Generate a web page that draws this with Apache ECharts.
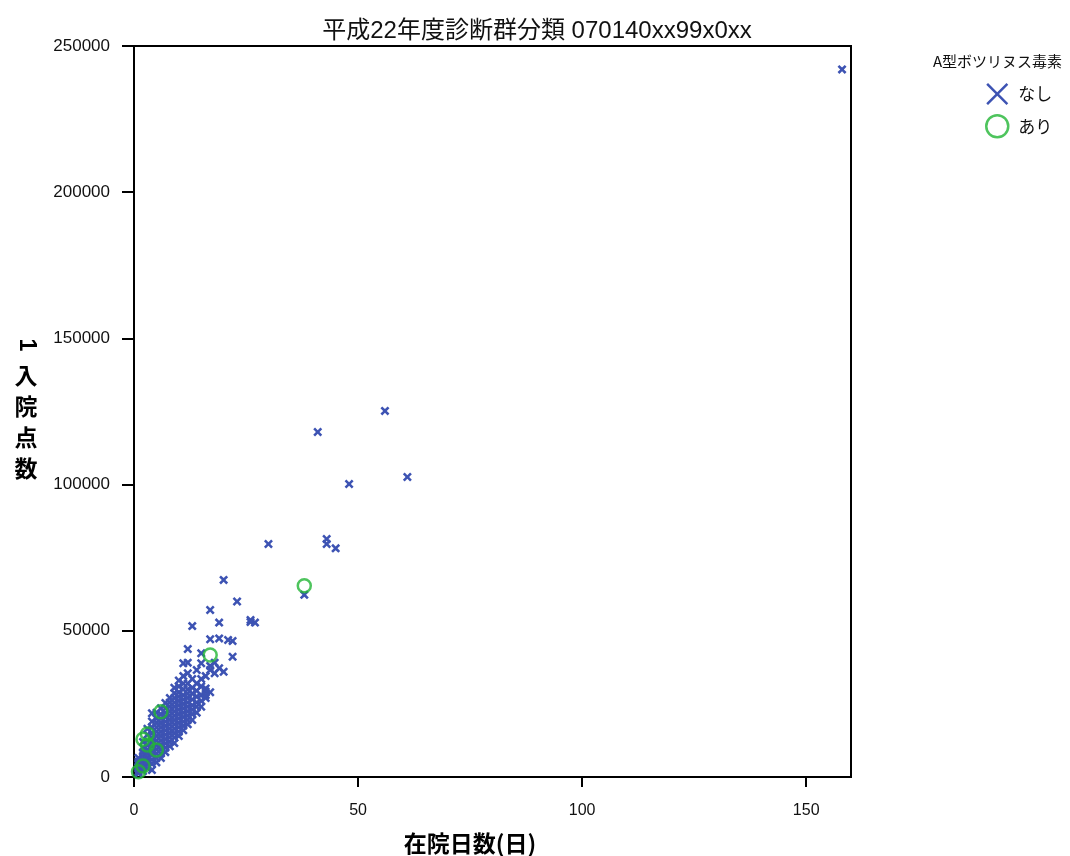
<!DOCTYPE html>
<html><head><meta charset="utf-8">
<script src="https://cdn.jsdelivr.net/npm/echarts@6/dist/echarts.min.js"></script>
<style>html,body{margin:0;padding:0;background:#fff}#c{width:1070px;height:856px}</style>
</head><body><div id="c"></div>
<script>
// Title and labels
const chartTitle = '平成22年度診断群分類 070140xx99x0xx';
const xName = '在院日数(日)';
const legendTitle = 'A型ボツリヌス毒素';
const seriesNames = ['なし', 'あり'];

// Series "なし" (no): days and points
const noneDays = [
  158,56,41,48,61,30,43,43,45,38,20,23,17,19,13,26,27,26,17,19,21,22,12,15,22,11,12,15,18,20,17,18,19,16,16,14,12,16,17,15,14,13,
  1,1,1,1,1,1,1,
  2,2,2,2,2,2,2,2,2,
  3,3,3,3,3,3,3,3,3,3,
  4,4,4,4,4,4,4,4,4,4,4,4,
  5,5,5,5,5,5,5,5,5,5,5,5,
  6,6,6,6,6,6,6,6,6,6,6,6,
  7,7,7,7,7,7,7,7,7,7,7,7,
  8,8,8,8,8,8,8,8,8,8,8,8,
  9,9,9,9,9,9,9,9,9,9,9,9,9,
  10,10,10,10,10,10,10,10,10,10,10,10,10,
  11,11,11,11,11,11,11,11,11,11,11,11,
  12,12,12,12,12,12,12,12,12,12,
  13,13,13,13,13,13,13,
  14,14,14,14,14,
  15,15,15,15,
  16,16,17
];
const nonePoints = [
  242000,125200,118000,100200,102600,79700,81400,79700,78200,62300,67400,60000,57100,52800,51600,53700,52800,53000,47100,47400,46850,46500,43800,42300,41150,38900,39100,38900,39100,36000,36600,35500,37200,30300,29200,36600,35500,34500,38000,33500,32000,33500,
  1200,1900,2700,3500,4300,5200,6500,
  2000,3000,4000,5000,6000,7200,8500,10000,12000,
  3000,4200,5500,6800,8000,9300,10800,12500,14500,16500,
  2400,4500,6000,7500,9000,10500,12000,13500,15000,17000,19000,21800,
  5000,6500,8000,9500,11000,12500,14000,15500,17000,18500,20000,22000,
  6500,8000,9500,11000,12500,14000,15500,17000,18500,20000,21500,23500,
  8500,10000,11500,13000,14500,16000,17500,19000,20500,22000,23500,25300,
  10500,12000,13500,15000,16500,18000,19500,21000,22500,24000,25500,27000,
  11600,13500,15000,16500,18000,19500,21000,22500,24000,25500,27000,28700,30500,
  14000,15500,17000,18500,20000,21500,23000,24500,26000,27500,29000,31000,33000,
  16000,17500,19000,20500,22000,23500,25000,26500,28000,30000,32000,34500,
  18000,19500,21000,22500,24000,25500,27000,28500,30000,32000,
  19500,21500,23000,24500,26500,28500,30500,
  22000,24000,25500,27500,29500,
  24000,26000,28000,31000,
  27000,28000,29000
];

// Series "あり" (yes)
const ariDays = [38,17,6,3,2,3,5,2,1];
const ariPoints = [65400,41700,22300,14700,12900,10950,9230,3760,1800];

// Axis ticks
const xTicks = [0,50,100,150];
const yTicks = [0,50000,100000,150000,200000,250000];

const blue = '#3d53b3';
const green = '#22b534';
const xPath = 'path://M0,2 L2,0 L5,3 L8,0 L10,2 L7,5 L10,8 L8,10 L5,7 L2,10 L0,8 L3,5 Z';
const xPathThin = 'path://M0,0.8 L0.8,0 L5,4.2 L9.2,0 L10,0.8 L5.8,5 L10,9.2 L9.2,10 L5,5.8 L0.8,10 L0,9.2 L4.2,5 Z';

const noneData = noneDays.map((d,i)=>[d, nonePoints[i]]);
const ariData = ariDays.map((d,i)=>[d, ariPoints[i]]);

const chart = echarts.init(document.getElementById('c'), null, {renderer:'canvas'});
const numFont = 'Liberation Sans';
const cjkFont = 'Noto Sans CJK JP';

chart.setOption({
  animation: false,
  backgroundColor: '#fff',
  title: {
    text: chartTitle, left: 532, top: 14, textAlign: 'center',
    textStyle: {fontFamily: '"Liberation Sans", "Noto Sans CJK JP"', fontSize: 24, fontWeight: 'normal', color: '#111'}
  },
  grid: {left: 134, top: 46, right: 219, bottom: 79, show: true, borderColor: '#000', borderWidth: 2, backgroundColor: 'transparent'},
  xAxis: {
    type: 'value', min: 0, max: 160, interval: 50,
    axisLine: {show: true, onZero: false, lineStyle: {color: '#000', width: 2}},
    axisTick: {show: true, length: 10, customValues: xTicks, lineStyle: {color: '#000', width: 2}},
    axisLabel: {margin: 26, customValues: xTicks, fontFamily: numFont, fontSize: 16, color: '#111',
      formatter: v => String(v)},
    splitLine: {show: false}
  },
  yAxis: {
    type: 'value', min: 0, max: 250000, interval: 50000,
    axisLine: {show: true, onZero: false, lineStyle: {color: '#000', width: 2}},
    axisTick: {show: true, length: 12, customValues: yTicks, lineStyle: {color: '#000', width: 2}},
    axisLabel: {margin: 24, customValues: yTicks, fontFamily: numFont, fontSize: 17, color: '#111',
      formatter: v => String(v)},
    splitLine: {show: false}
  },
  legend: {
    orient: 'vertical', left: 980, top: 78, itemGap: 9, itemWidth: 22, itemHeight: 22,
    textStyle: {fontFamily: cjkFont, fontSize: 17, color: '#111', padding: [0,0,0,5]},
    data: [
      {name: seriesNames[0], icon: xPathThin, itemStyle: {color: blue}},
      {name: seriesNames[1], icon: 'circle', itemStyle: {color: 'rgba(0,0,0,0)', borderColor: green, borderWidth: 2.5}}
    ]
  },
  graphic: [
    {type: 'text', left: 933, top: 54, style: {text: legendTitle, font: '15px "Noto Sans CJK JP"', fill: '#111'}},
    {type: 'text', x: 470, y: 843, style: {text: xName, font: 'bold 23px "Noto Sans CJK JP"', fill: '#000', align: 'center', verticalAlign: 'middle'}},
    {type: 'text', x: 26, y: 345, rotation: -Math.PI/2, style: {text: '1', font: 'bold 23px "Liberation Sans"', fill: '#000', align: 'center', verticalAlign: 'middle'}},
    {type: 'text', x: 26, y: 360, style: {text: '入\n院\n点\n数', font: 'bold 23px "Noto Sans CJK JP"', lineHeight: 31, fill: '#000', align: 'center', verticalAlign: 'top'}}
  ],
  series: [
    {
      name: seriesNames[0], type: 'scatter', data: noneData, symbol: xPath, symbolSize: 9,
      itemStyle: {color: blue, opacity: 1}, z: 2
    },
    {
      name: seriesNames[1], type: 'scatter', data: ariData, symbol: 'circle', symbolSize: 13,
      itemStyle: {color: 'rgba(0,0,0,0)', borderColor: green, borderWidth: 2.5}, z: 3
    }
  ]
});
</script></body></html>
